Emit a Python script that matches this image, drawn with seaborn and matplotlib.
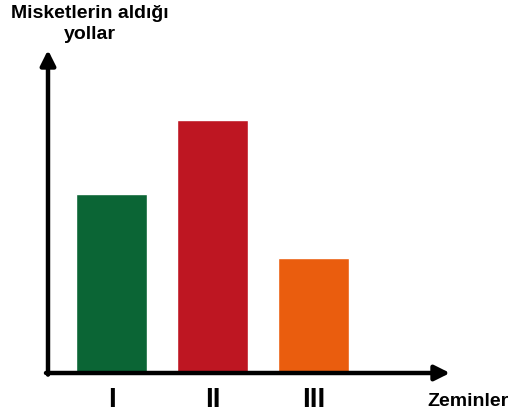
import matplotlib

matplotlib.use("Agg")
import matplotlib.pyplot as plt
import pandas as pd
import seaborn as sns

# values (arbitrary length units)
zeminler = ["I", "II", "III"]
yol_uzunlugu = [5.0, 7.05, 3.2]
renkler = ["#0b6535", "#be1622", "#ea5d0e"]

sns.set_style("white")
plt.rcParams["font.family"] = ["Liberation Sans", "DejaVu Sans"]
plt.rcParams["text.color"] = "black"
plt.rcParams["xtick.color"] = "black"

W, H = 509, 417
fig = plt.figure(figsize=(W / 100, H / 100), dpi=100)
# axes box in pixel terms: x 48..450, y 50..373 (from top)
ax = fig.add_axes([48 / W, (H - 373) / H, (450 - 48) / W, (373 - 50) / H])

frame = pd.DataFrame({"zemin": zeminler, "uzunluk": yol_uzunlugu})
sns.barplot(
    data=frame,
    x="zemin",
    y="uzunluk",
    hue="zemin",
    palette=renkler,
    width=0.7,
    legend=False,
    saturation=1,
    ax=ax,
)
ax.set_xlim(-0.63, 3.35)
ax.set_ylim(0, 9)
ax.set_xlabel("")
ax.set_ylabel("")
ax.set_yticks([])
for spine in ax.spines.values():
    spine.set_visible(False)
ax.tick_params(axis="x", length=0, pad=10, labelcolor="black")
for label in ax.get_xticklabels():
    label.set_fontsize(20)
    label.set_fontweight("bold")

arrow = dict(arrowstyle="-|>,head_length=0.9,head_width=0.45", lw=3.2, color="black",
             shrinkA=0, shrinkB=0)
ax.annotate("", xy=(0, 1), xytext=(0, -0.005), xycoords="axes fraction", arrowprops=arrow,
            annotation_clip=False)
ax.annotate("", xy=(1, 0), xytext=(-0.005, 0), xycoords="axes fraction", arrowprops=arrow,
            annotation_clip=False)

fig.text(90 / W, 1 - 24 / H, "Misketlerin aldığı\nyollar", ha="center", va="center",
         fontsize=14, fontweight="bold", linespacing=1.35, color="black")
fig.text(468 / W, 1 - 401 / H, "Zeminler", ha="center", va="center",
         fontsize=14, fontweight="bold", color="black")

fig.savefig("out.png", dpi=100)
